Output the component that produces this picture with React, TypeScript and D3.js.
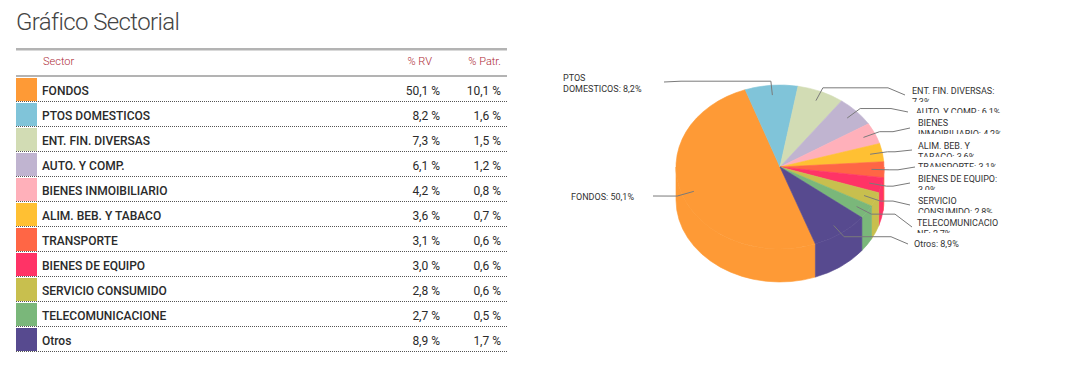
import React, { useEffect, useRef } from "react";
import * as d3 from "d3";

// sector data
const sectors = [
  "FONDOS",
  "PTOS DOMESTICOS",
  "ENT. FIN. DIVERSAS",
  "AUTO. Y COMP.",
  "BIENES INMOIBILIARIO",
  "ALIM. BEB. Y TABACO",
  "TRANSPORTE",
  "BIENES DE EQUIPO",
  "SERVICIO CONSUMIDO",
  "TELECOMUNICACIONE",
  "Otros",
];
const pctRV = [50.1, 8.2, 7.3, 6.1, 4.2, 3.6, 3.1, 3.0, 2.8, 2.7, 8.9];
const pctPatr = [10.1, 1.6, 1.5, 1.2, 0.8, 0.7, 0.6, 0.6, 0.6, 0.5, 1.7];
const colors = [
  "#fe9a36", "#80c4d9", "#d2dcb4", "#c0b4d0", "#ffb0ba", "#ffc033",
  "#ff6645", "#ff3366", "#c8bf4e", "#7ab77a", "#574a8f",
];
// pie label text, as wrapped in the chart
const pieLabels = [
  ["FONDOS: 50,1%"],
  ["PTOS", "DOMESTICOS: 8,2%"],
  ["ENT. FIN. DIVERSAS:", "7,3%"],
  ["AUTO. Y COMP.: 6,1%"],
  ["BIENES", "INMOIBILIARIO: 4,2%"],
  ["ALIM. BEB. Y", "TABACO: 3,6%"],
  ["TRANSPORTE: 3,1%"],
  ["BIENES DE EQUIPO:", "3,0%"],
  ["SERVICIO", "CONSUMIDO: 2,8%"],
  ["TELECOMUNICACIO", "NE: 2,7%"],
  ["Otros: 8,9%"],
];
// label placement: x, first baseline, connector end, clip bottom
const labelLayout = [
  { x: 571, y: 200, ex: 653, ey: 196, side: -1, clip: 0 },
  { x: 563, y: 81, ex: 664, ey: 82, side: -1, clip: 0 },
  { x: 912, y: 94, ex: 905, ey: 95, side: 1, clip: 102 },
  { x: 916, y: 115, ex: 908, ey: 112, side: 1, clip: 113 },
  { x: 918, y: 126, ex: 910, ey: 128, side: 1, clip: 134 },
  { x: 918, y: 149, ex: 912, ey: 150, side: 1, clip: 157 },
  { x: 918, y: 170, ex: 915, ey: 167, side: 1, clip: 167 },
  { x: 918, y: 182, ex: 910, ey: 183, side: 1, clip: 190 },
  { x: 918, y: 204, ex: 910, ey: 205, side: 1, clip: 213 },
  { x: 917, y: 226, ex: 912, ey: 227, side: 1, clip: 233 },
  { x: 914, y: 247, ex: 908, ey: 244, side: 1, clip: 0 },
];

const fmt = (v: number) => v.toFixed(1).replace(".", ",") + " %";

function App() {
  const svgRef = useRef<SVGSVGElement>(null);

  useEffect(() => {
    document.body.style.margin = "0";
    const svg = d3.select(svgRef.current);
    svg.selectAll("*").remove();

    const font = "Roboto, 'Noto Sans', sans-serif";

    // title
    svg
      .append("text")
      .attr("x", 16)
      .attr("y", 30)
      .attr("font-family", font)
      .attr("font-weight", 300)
      .attr("font-size", 24)
      .attr("letter-spacing", -0.6)
      .attr("fill", "#444")
      .text("Gráfico Sectorial");

    // ---------- table ----------
    const t = svg.append("g");
    t.append("rect").attr("x", 16).attr("y", 48).attr("width", 491).attr("height", 2.5).attr("fill", "#b3b3b3");
    t.append("rect").attr("x", 16).attr("y", 75).attr("width", 491).attr("height", 2).attr("fill", "#b3b3b3");

    const head = [
      { t: "Sector", x: 43, a: "start" },
      { t: "% RV", x: 432, a: "end" },
      { t: "% Patr.", x: 501, a: "end" },
    ];
    t.selectAll("text.h")
      .data(head)
      .join("text")
      .attr("class", "h")
      .attr("x", (d) => d.x)
      .attr("y", 65)
      .attr("text-anchor", (d) => d.a)
      .attr("font-family", font)
      .attr("font-weight", 300)
      .attr("font-size", 11)
      .attr("fill", "#ad2a36")
      .text((d) => d.t);

    const y = d3.scaleBand<string>().domain(sectors).range([77, 352]);

    const rows = t
      .selectAll("g.row")
      .data(sectors)
      .join("g")
      .attr("class", "row")
      .attr("transform", (d) => `translate(0,${y(d)})`);

    rows
      .append("rect")
      .attr("x", 16)
      .attr("y", 1)
      .attr("width", 21)
      .attr("height", y.bandwidth() - 2)
      .attr("fill", (_, i) => colors[i]);

    rows
      .append("line")
      .attr("x1", 16)
      .attr("x2", 507)
      .attr("y1", y.bandwidth() - 0.5)
      .attr("y2", y.bandwidth() - 0.5)
      .attr("stroke", "#555")
      .attr("stroke-width", 1)
      .attr("stroke-dasharray", "1,1");

    const cellText = (sel: any) =>
      sel
        .attr("y", 18)
        .attr("font-family", font)
        .attr("font-weight", 500)
        .attr("font-size", 12)
        .attr("fill", "#2a2a2a");

    rows.append("text").call(cellText).attr("x", 42).text((d) => d);
    rows
      .append("text")
      .call(cellText)
      .attr("x", 440)
      .attr("text-anchor", "end")
      .attr("font-weight", 400)
      .text((_, i) => fmt(pctRV[i]));
    rows
      .append("text")
      .call(cellText)
      .attr("x", 501)
      .attr("text-anchor", "end")
      .attr("font-weight", 400)
      .text((_, i) => fmt(pctPatr[i]));

    // ---------- 3D pie ----------
    const cx = 780,
      cy = 167,
      rx = 104,
      ry = 82,
      depth = 33;
    const start = (160.1 * Math.PI) / 180;
    const pie = d3
      .pie<number>()
      .sort(null)
      .value((d) => d)
      .startAngle(start)
      .endAngle(start + 2 * Math.PI);
    const arcs = pie(pctRV);

    const pt = (a: number, f = 1, dy = 0): [number, number] => [
      cx + rx * f * Math.sin(a),
      cy - ry * f * Math.cos(a) + dy,
    ];

    const g = svg.append("g");

    // side walls on the front half
    const fronts = [
      [Math.PI / 2, (3 * Math.PI) / 2],
      [Math.PI / 2 + 2 * Math.PI, (3 * Math.PI) / 2 + 2 * Math.PI],
    ];
    arcs.forEach((d, i) => {
      fronts.forEach(([f0, f1]) => {
        const b0 = Math.max(d.startAngle, f0);
        const b1 = Math.min(d.endAngle, f1);
        if (b1 <= b0) return;
        const [x0, y0] = pt(b0);
        const [x1, y1] = pt(b1);
        const s =
          `M${x0},${y0}A${rx},${ry} 0 0 1 ${x1},${y1}` +
          `L${x1},${y1 + depth}A${rx},${ry} 0 0 0 ${x0},${y0 + depth}Z`;
        g.append("path")
          .attr("d", s)
          .attr("fill", colors[i])
          .attr("stroke", colors[i])
          .attr("stroke-width", 0.6)
          .attr("stroke-linejoin", "round");
      });
    });

    // top faces
    g.selectAll("path.top")
      .data(arcs)
      .join("path")
      .attr("class", "top")
      .attr("fill", (_, i) => colors[i])
      .attr("stroke", (_, i) => colors[i])
      .attr("stroke-width", 0.6)
      .attr("stroke-linejoin", "round")
      .attr("d", (d) => {
        const [x0, y0] = pt(d.startAngle);
        const [x1, y1] = pt(d.endAngle);
        const large = d.endAngle - d.startAngle > Math.PI ? 1 : 0;
        return `M${cx},${cy}L${x0},${y0}A${rx},${ry} 0 ${large} 1 ${x1},${y1}Z`;
      });

    // connectors and labels
    const line = d3.line();
    const lab = svg.append("g");
    arcs.forEach((d, i) => {
      const L = labelLayout[i];
      const mid = (d.startAngle + d.endAngle) / 2;
      const inner = pt(mid, 0.88);
      const elbow = pt(mid, 1.05);
      const pts: [number, number][] = [
        inner,
        elbow,
        [L.ex - 17 * L.side, elbow[1]],
        [L.ex, L.ey],
      ];
      lab
        .append("path")
        .attr("d", line(pts))
        .attr("fill", "none")
        .attr("stroke", "#7a7a7a")
        .attr("stroke-width", 1);

      const clipId = "lc" + i;
      if (L.clip) {
        svg
          .append("clipPath")
          .attr("id", clipId)
          .append("rect")
          .attr("x", L.x - 5)
          .attr("y", L.y - 15)
          .attr("width", 160)
          .attr("height", L.clip - (L.y - 15));
      }
      const tx = lab
        .append("text")
        .attr("x", L.x)
        .attr("y", L.y)
        .attr("font-family", font)
        .attr("font-size", 9)
        .attr("fill", "#333")
        .attr("clip-path", L.clip ? `url(#${clipId})` : null);
      pieLabels[i].forEach((s, k) => {
        tx.append("tspan")
          .attr("x", L.x)
          .attr("y", L.y + k * 11)
          .text(s);
      });
    });
  }, []);

  return <svg ref={svgRef} width={1066} height={374} style={{ display: "block" }} />;
}

export default App;
